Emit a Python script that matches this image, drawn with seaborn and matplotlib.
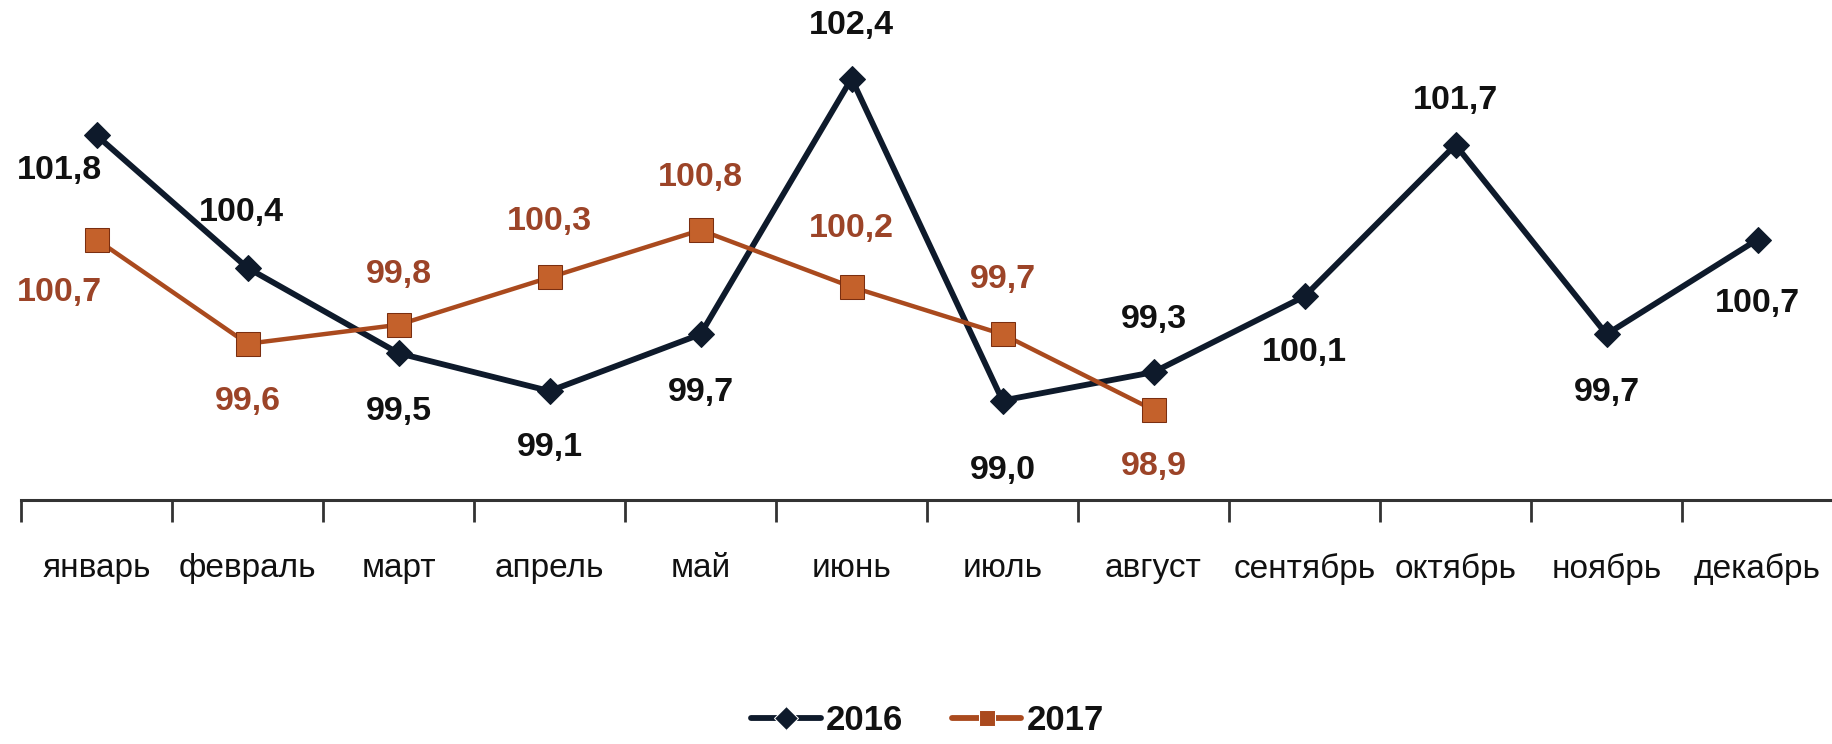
import numpy as np
import pandas as pd
import seaborn as sns
import matplotlib.pyplot as plt

# data
months = ['январь', 'февраль', 'март', 'апрель', 'май', 'июнь', 'июль',
          'август', 'сентябрь', 'октябрь', 'ноябрь', 'декабрь']
vals_2016 = [101.8, 100.4, 99.5, 99.1, 99.7, 102.4, 99.0, 99.3, 100.1, 101.7, 99.7, 100.7]
vals_2017 = [100.7, 99.6, 99.8, 100.3, 100.8, 100.2, 99.7, 98.9]

# label offsets (pixels, y up)
off_2016 = [(-37, -35), (-6, 55), (0, -58), (0, -56), (0, -58), (0, 53),
            (0, -70), (0, 53), (0, -56), (0, 44), (0, -58), (0, -64)]
off_2017 = [(-37, -53), (0, -58), (0, 50), (0, 56), (0, 53), (0, 58), (0, 55), (0, -56)]

df = pd.DataFrame({
    'month': list(range(len(vals_2016))) + list(range(len(vals_2017))),
    'value': vals_2016 + vals_2017,
    'year': ['2016'] * len(vals_2016) + ['2017'] * len(vals_2017),
})

sns.set_style('white')
plt.rcParams['font.family'] = ['Liberation Sans', 'DejaVu Sans']

c16 = '#0e1a2b'
c17 = '#aa4a1e'
c17_txt = '#9c4428'

fig = plt.figure(figsize=(18.33, 7.44), dpi=100)
ax = fig.add_axes([0.0115, 0.328, 0.9885, 0.672])

sns.lineplot(data=df, x='month', y='value', hue='year', style='year',
             palette={'2016': c16, '2017': c17},
             markers={'2016': 'D', '2017': 's'}, dashes=False,
             linewidth=4.2, markersize=15, ax=ax)

# marker styling
lines = [l for l in ax.get_lines() if len(l.get_xdata()) > 0]
for line in lines:
    if len(line.get_xdata()) == len(vals_2017):
        line.set_markeredgecolor('#7a2e10')
        line.set_markerfacecolor('#c4612b')
        line.set_linewidth(3.2)
        line.set_markersize(17)
    else:
        line.set_markeredgecolor(c16)
        line.set_markersize(13)

def fmt(v):
    return f'{v:.1f}'.replace('.', ',')

for i, (v, o) in enumerate(zip(vals_2016, off_2016)):
    ax.annotate(fmt(v), (i, v), xytext=o, textcoords='offset pixels',
                ha='center', va='center', fontsize=24.5, fontweight='bold', color='#111111')
for i, (v, o) in enumerate(zip(vals_2017, off_2017)):
    ax.annotate(fmt(v), (i, v), xytext=o, textcoords='offset pixels',
                ha='center', va='center', fontsize=24.5, fontweight='bold', color=c17_txt)

ax.set_xlim(-0.5, 11.5)
ax.set_ylim(97.95, 103.23)
ax.set_xticks(range(12))
ax.set_xticklabels(months, fontsize=24, color='#111111')
ax.set_xticks(np.arange(-0.5, 12, 1), minor=True)
ax.tick_params(axis='x', which='major', bottom=False, length=0, pad=38)
ax.tick_params(axis='x', which='minor', bottom=True, length=16, width=2,
               color='#333333', direction='out')
ax.set_yticks([])
ax.set_xlabel('')
ax.set_ylabel('')
sns.despine(ax=ax, left=True, right=True, top=True)
ax.spines['bottom'].set_linewidth(2.2)
ax.spines['bottom'].set_color('#333333')

leg = ax.legend(loc='center', bbox_to_anchor=(0.506, 0.031), bbox_transform=fig.transFigure,
                ncol=2, frameon=False, fontsize=25, handlelength=2.0, columnspacing=1.4,
                handletextpad=0.15)
for t in leg.get_texts():
    t.set_fontweight('bold')
    t.set_color('#111111')
for h in leg.legend_handles:
    h.set_markersize(12)

fig.savefig('out.png', dpi=100)
